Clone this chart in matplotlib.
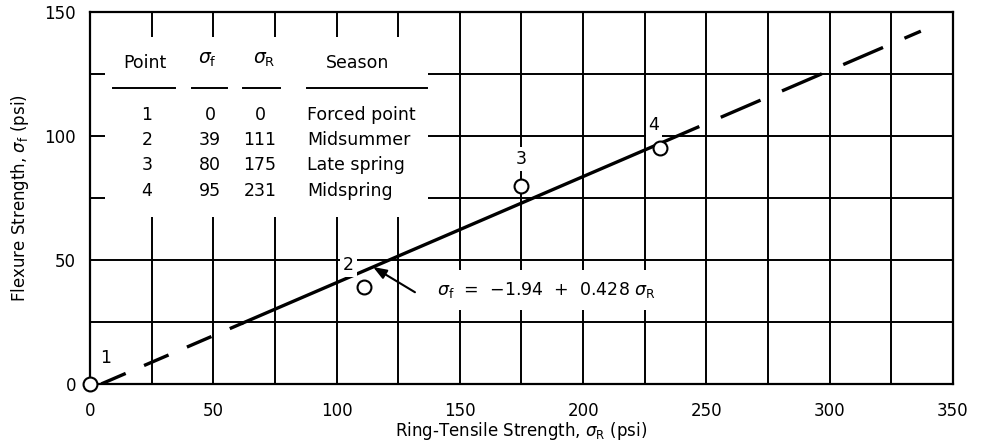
import numpy as np
import matplotlib
matplotlib.use("Agg")
import matplotlib.pyplot as plt
from matplotlib.patches import Rectangle

plt.rcParams['font.family'] = ['DejaVu Sans']
plt.rcParams['mathtext.fontset'] = 'dejavusans'

# table / point data
points = [1, 2, 3, 4]
sigma_f = [0, 39, 80, 95]
sigma_r = [0, 111, 175, 231]
seasons = ['Forced point', 'Midsummer', 'Late spring', 'Midspring']

# fitted line  sigma_f = a + b * sigma_r
intercept = -1.94
slope = 0.428
fit_start, solid_start, solid_end, fit_end = 4.53, 62, 231, 337

x_ticks = [0, 50, 100, 150, 200, 250, 300, 350]
y_ticks = [0, 50, 100, 150]

fig = plt.figure(figsize=(9.85, 4.47), dpi=100)
ax = fig.add_axes([0.0914, 0.141, 0.876, 0.832])
ax.set_xlim(0, 350)
ax.set_ylim(0, 150)
ax.set_xticks(x_ticks)
ax.set_yticks(y_ticks)
ax.set_xticks(np.arange(0, 351, 25), minor=True)
ax.set_yticks(np.arange(0, 151, 25), minor=True)
ax.set_axisbelow(True)
ax.grid(which='both', color='black', lw=1.4)
ax.tick_params(which='both', length=0, labelsize=12)
ax.tick_params(axis='x', pad=13)
ax.tick_params(axis='y', pad=10)
for s in ax.spines.values():
    s.set_linewidth(1.6)

ax.set_xlabel(r'Ring-Tensile Strength, $\sigma_\mathrm{R}$ (psi)', fontsize=12, labelpad=0)
ax.set_ylabel(r'Flexure Strength, $\sigma_\mathrm{f}$ (psi)', fontsize=12, labelpad=10)

# fit line: dashed extrapolation, solid over data range
xd1 = np.array([fit_start, solid_start])
xs = np.array([solid_start, solid_end])
xd2 = np.array([solid_end, fit_end])
ax.plot(xd1, intercept + slope * xd1, color='black', lw=2.4, dashes=(8, 6), zorder=3)
ax.plot(xs, intercept + slope * xs, color='black', lw=2.4, zorder=3)
ax.plot(xd2, intercept + slope * xd2, color='black', lw=2.4, dashes=(13, 7), zorder=3)

# data points
ax.plot(sigma_r, sigma_f, 'o', ms=10, mfc='white', mec='black', mew=1.5,
        clip_on=False, zorder=5)
label_offsets = [(11, 19), (-11, 16), (0, 19), (-4, 17)]
for p, x, y, off in zip(points, sigma_r, sigma_f, label_offsets):
    ax.annotate(str(p), (x, y), xytext=off, textcoords='offset points',
                ha='center', va='center', fontsize=12.5, zorder=4,
                bbox=dict(fc='white', ec='none', pad=2), annotation_clip=False)

# equation with arrow
ax.text(140.7, 37.9, r'$\sigma_\mathrm{f}$  =  −1.94  +  0.428 $\sigma_\mathrm{R}$',
        fontsize=12.5, ha='left', va='center', zorder=4,
        bbox=dict(boxstyle='square,pad=0.6', fc='white', ec='none'))
xa = 114.8
ax.annotate('', xy=(xa, intercept + slope * xa), xytext=(131.8, 37),
            arrowprops=dict(arrowstyle='-|>,head_length=0.8,head_width=0.3',
                            color='black', lw=1.5, shrinkA=0, shrinkB=0),
            zorder=6)

# table in the upper-left corner
ax.add_patch(Rectangle((6.1, 67.3), 130.9, 72.6, fc='white', ec='none', zorder=1))
hdr_y = 129.4
ax.text(22.3, hdr_y, 'Point', fontsize=12.5, ha='center', va='center', zorder=2)
ax.text(47.4, hdr_y + 1.5, r'$\sigma_\mathrm{f}$', fontsize=13.5, ha='center', va='center', zorder=2)
ax.text(70.6, hdr_y + 1.5, r'$\sigma_\mathrm{R}$', fontsize=13.5, ha='center', va='center', zorder=2)
ax.text(108.7, hdr_y, 'Season', fontsize=12.5, ha='center', va='center', zorder=2)
for x0, x1 in [(9.3, 34.5), (41.4, 55.6), (62, 77), (88, 136.7)]:
    ax.plot([x0, x1], [119.4, 119.4], color='black', lw=1.4, zorder=2)
row_y = [108.5, 98.4, 88.3, 77.8]
for p, f, r, s, y in zip(points, sigma_f, sigma_r, seasons, row_y):
    ax.text(23.1, y, str(p), fontsize=12.5, ha='center', va='center', zorder=2)
    ax.text(48.7, y, str(f), fontsize=12.5, ha='center', va='center', zorder=2)
    ax.text(68.9, y, str(r), fontsize=12.5, ha='center', va='center', zorder=2)
    ax.text(88.0, y, s, fontsize=12.5, ha='left', va='center', zorder=2)

fig.savefig('out.png', dpi=100)
